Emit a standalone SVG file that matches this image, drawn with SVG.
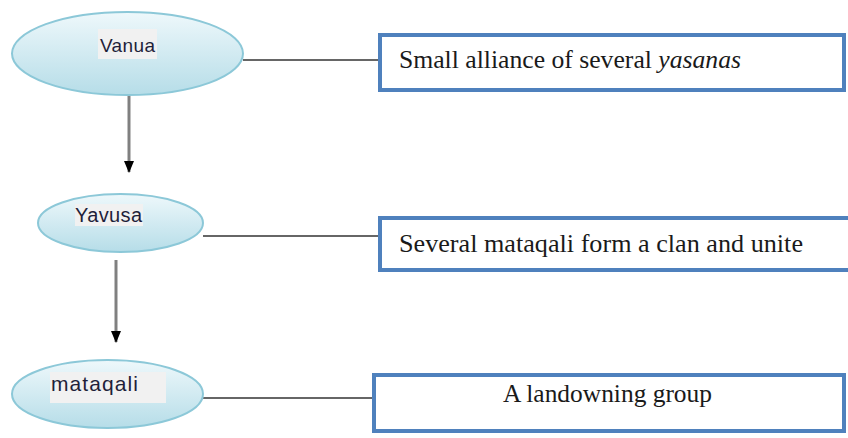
<svg xmlns="http://www.w3.org/2000/svg" width="848" height="438" viewBox="0 0 848 438">
<defs>
<linearGradient id="eg" x1="0" y1="0" x2="0" y2="1">
<stop offset="0" stop-color="#eef8fb"/>
<stop offset="1" stop-color="#b6dde8"/>
</linearGradient>
<marker id="ah" viewBox="0 0 12 10" refX="11" refY="5" markerWidth="12" markerHeight="11" markerUnits="userSpaceOnUse" orient="auto">
<path d="M0,0 L12,5 L0,10 z" fill="#000"/>
</marker>
<style>
.ell{fill:url(#eg);stroke:#8cc8d8;stroke-width:2}
.hl{fill:#f1f1f1}
.lbl{font-family:"Liberation Sans",Arial,sans-serif;fill:#1f1f3a}
.box{fill:#fff;stroke:#4f81bd;stroke-width:4}
.txt{font-family:"Liberation Serif","Times New Roman",serif;font-size:25px;fill:#1a1a1a}
.link{stroke:#333;stroke-width:1.5;fill:none}
.arr{stroke:#808080;stroke-width:3;fill:none;marker-end:url(#ah)}
</style>
</defs>
<g id="connectors">
<line class="link" x1="243" y1="60" x2="380" y2="60"/>
<line class="link" x1="203" y1="236" x2="380" y2="236"/>
<line class="link" x1="202" y1="398" x2="374" y2="398"/>
<line class="arr" x1="129" y1="95" x2="129" y2="172"/>
<line class="arr" x1="116" y1="260" x2="116" y2="342"/>
</g>
<g id="vanua">
<ellipse class="ell" cx="127.5" cy="53.5" rx="115.5" ry="41.5"/>
<rect class="hl" x="98" y="29" width="59" height="30"/>
<text class="lbl" x="100" y="52" font-size="19" textLength="55">Vanua</text>
</g>
<g id="yavusa">
<ellipse class="ell" cx="120.5" cy="223" rx="82.5" ry="29"/>
<rect class="hl" x="75" y="204" width="68" height="22"/>
<text class="lbl" x="75" y="222" font-size="20" textLength="67">Yavusa</text>
</g>
<g id="mataqali">
<ellipse class="ell" cx="107.5" cy="394" rx="95.5" ry="34"/>
<rect class="hl" x="50" y="372" width="116" height="31" fill="#f6f6f6"/>
<text class="lbl" x="51" y="391" font-size="21" textLength="87">mataqali</text>
</g>
<g id="box1">
<rect class="box" x="380" y="35" width="464" height="55"/>
<text class="txt" x="399" y="68" textLength="342" lengthAdjust="spacingAndGlyphs">Small alliance of several <tspan font-style="italic">yasanas</tspan></text>
</g>
<g id="box2">
<rect class="box" x="380" y="218" width="472" height="52"/>
<text class="txt" x="399" y="252" textLength="404" lengthAdjust="spacingAndGlyphs">Several mataqali form a clan and unite</text>
</g>
<g id="box3">
<rect class="box" x="374" y="375" width="470" height="56"/>
<text class="txt" x="503" y="402" textLength="209" lengthAdjust="spacingAndGlyphs">A landowning group</text>
</g>
</svg>
